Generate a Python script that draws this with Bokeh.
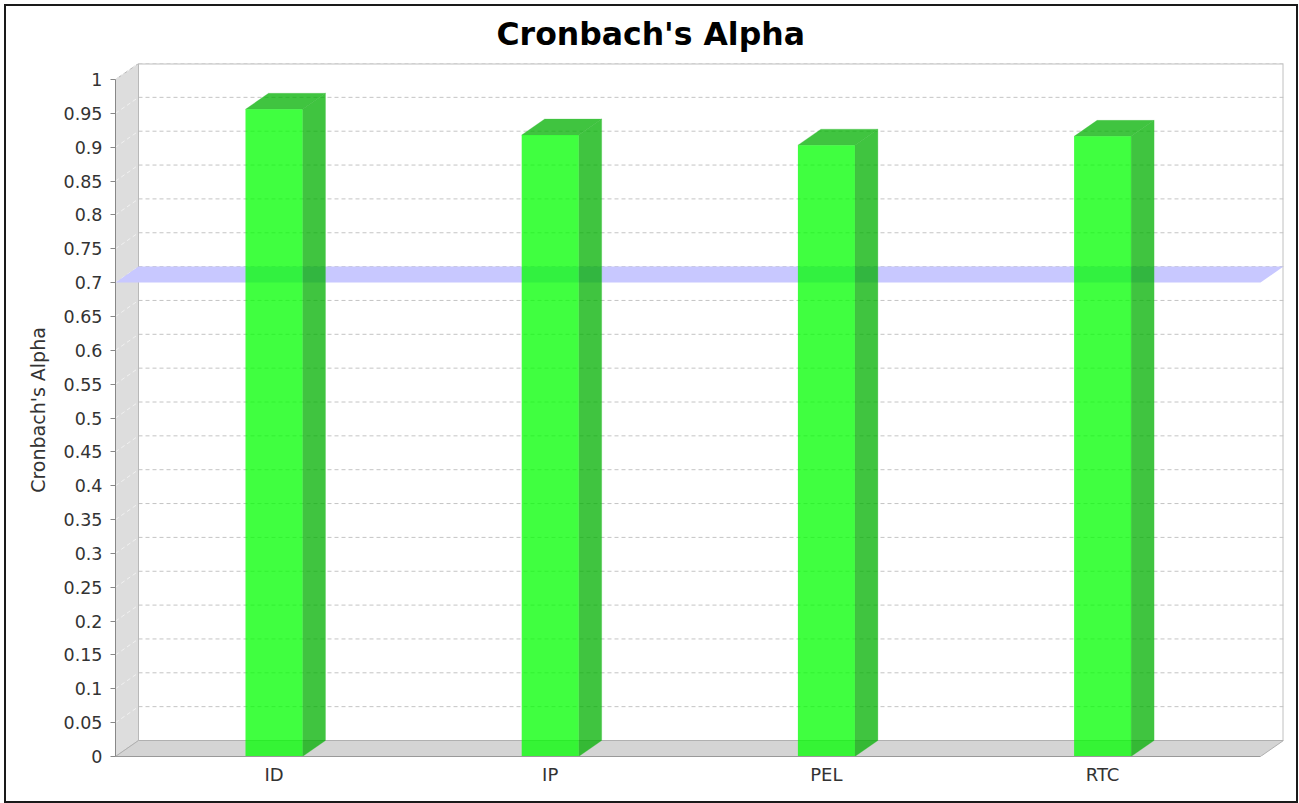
from bokeh.plotting import figure
from bokeh.models import Range1d, FixedTicker, CustomJSTickFormatter
from bokeh.embed import file_html
from bokeh.resources import INLINE

# ---- data ----
categories = ["ID", "IP", "PEL", "RTC"]
alpha_values = [0.956, 0.918, 0.903, 0.916]
threshold = 0.7
y_ticks = [round(i * 0.05, 2) for i in range(21)]

# ---- geometry (pixels, canvas placed at page offset 6,6) ----
W, H = 1290, 795
ML, MB = 109, 45
PX_X = 276.2          # pixels per category step
PX_Y = 677.0          # pixels per unit of alpha
DX_PX, DY_PX = 23.0, 16.0
FRONT_W_PX = 1145.0
FIRST_CENTER_PX = 158.5
BAR_W_PX = 57.0

frame_w = FRONT_W_PX + DX_PX
frame_h = PX_Y + DY_PX
MR = W - ML - frame_w
MT = H - MB - frame_h

dx = DX_PX / PX_X
dy = DY_PX / PX_Y
x_start = -FIRST_CENTER_PX / PX_X
x_front_end = x_start + FRONT_W_PX / PX_X
x_end = x_front_end + dx
y_top = 1.0 + dy
bw = BAR_W_PX / PX_X

FONT = "DejaVu Sans"

p = figure(width=W, height=H, output_backend="svg", toolbar_location=None,
           x_range=Range1d(x_start, x_end), y_range=Range1d(0, y_top),
           min_border_left=ML, min_border_right=int(MR), min_border_top=int(MT),
           min_border_bottom=MB, background_fill_color="white",
           border_fill_color="white", outline_line_color=None)
p.styles = {"margin-left": "6px", "margin-top": "6px",
            "box-shadow": "0 0 0 2px #1a1a1a"}
p.grid.visible = False

# title
p.title.text = "Cronbach's Alpha"
p.title.text_font = FONT
p.title.text_font_style = "bold"
p.title.text_font_size = "31.5px"
p.title.text_color = "black"
p.title.align = "left"
p.title.offset = 381
p.title.vertical_align = "top"
p.title.standoff = 19

# back wall gridlines
gx = [[x_start + dx, x_end] for t in y_ticks[1:]]
gy = [[t + dy, t + dy] for t in y_ticks[1:]]
p.multi_line(gx, gy, line_color="#c4c4c4", line_width=1, line_dash="4 3")

# left wall
p.patch([x_start, x_start + dx, x_start + dx, x_start], [0, dy, y_top, 1.0],
        fill_color="#dddddd", line_color="#b8b8b8", line_width=1)
# left wall diagonal gridlines
wx = [[x_start, x_start + dx] for t in y_ticks[1:]]
wy = [[t, t + dy] for t in y_ticks[1:]]
p.multi_line(wx, wy, line_color="#f0f0f0", line_width=1, line_dash="4 3")

# back wall outline (top / right)
p.line([x_start + dx, x_end, x_end], [y_top, y_top, dy], line_color="#c0c0c0", line_width=2)

# floor
p.patch([x_start, x_front_end, x_end, x_start + dx], [0, 0, dy, dy],
        fill_color="#d4d4d4", line_color="#b0b0b0", line_width=1)

# threshold band
p.patch([x_start, x_front_end, x_end, x_start + dx],
        [threshold, threshold, threshold + dy, threshold + dy],
        fill_color="#c8c8ff", line_color=None)

# bars
fx, fy, sx, sy = [], [], [], []
for i, v in enumerate(alpha_values):
    x0, x1 = i - bw / 2, i + bw / 2
    fx.append([x0, x1, x1, x0]); fy.append([0, 0, v, v])
    sx.append([x1, x1 + dx, x1 + dx, x1]); sy.append([0, dy, v + dy, v])
    sx.append([x0, x1, x1 + dx, x0 + dx]); sy.append([v, v, v + dy, v + dy])
p.patches(sx, sy, fill_color="#00b000", fill_alpha=0.75, line_color="#40c040", line_alpha=0.5, line_width=0.5)
p.patches(fx, fy, fill_color="#00ff00", fill_alpha=0.75, line_color=None)

# y axis
ya = p.yaxis[0]
ya.ticker = FixedTicker(ticks=y_ticks)
ya.bounds = (0, 1)
ya.formatter = CustomJSTickFormatter(code="return String(parseFloat(tick.toFixed(2)));")
ya.axis_line_color = "#888888"
ya.major_tick_line_color = "#888888"
ya.major_tick_out = 5
ya.major_tick_in = 0
ya.minor_tick_line_color = None
ya.major_label_standoff = 8
ya.major_label_text_font = FONT
ya.major_label_text_font_size = "17.5px"
ya.major_label_text_color = "#333333"
ya.axis_label = "Cronbach's Alpha"
ya.axis_label_text_font = FONT
ya.axis_label_text_font_size = "19px"
ya.axis_label_text_font_style = "normal"
ya.axis_label_text_color = "#333333"
ya.axis_label_standoff = 12

# x axis
xa = p.xaxis[0]
xa.ticker = FixedTicker(ticks=list(range(len(categories))))
xa.formatter = CustomJSTickFormatter(args=dict(cats=categories),
                                     code="return cats[Math.round(tick)] || '';")
xa.bounds = (x_start, x_front_end)
xa.axis_line_color = "#999999"
xa.major_tick_line_color = None
xa.minor_tick_line_color = None
xa.major_tick_out = 0
xa.major_tick_in = 0
xa.major_label_standoff = 7
xa.major_label_text_font = FONT
xa.major_label_text_font_size = "18px"
xa.major_label_text_color = "#333333"

open("out.html", "w").write(file_html(p, INLINE))
